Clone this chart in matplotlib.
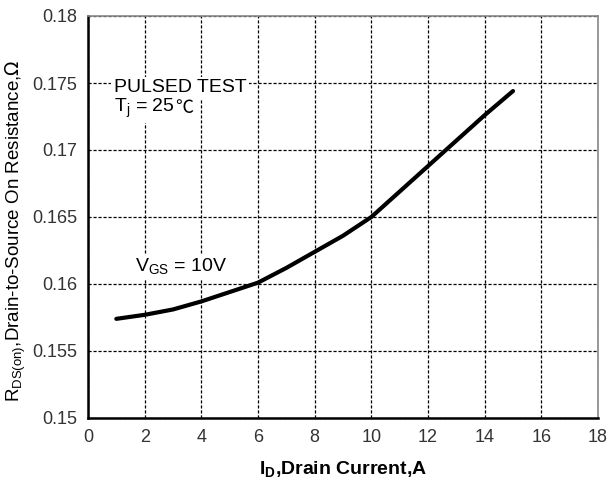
import matplotlib
matplotlib.use("Agg")
import matplotlib.pyplot as plt
import numpy as np

plt.rcParams['font.family'] = ['Liberation Sans', 'DejaVu Sans']

current_a = [1, 2, 3, 4, 5, 6, 7, 8, 9, 10, 11, 12, 13, 14, 15]
rds_on = [0.1574, 0.1577, 0.1581, 0.1587, 0.1594, 0.1601, 0.1612, 0.1624, 0.1636,
          0.1650, 0.1669, 0.1688, 0.1707, 0.1726, 0.1744]
x_ticks = [0, 2, 4, 6, 8, 10, 12, 14, 16, 18]
y_ticks = [0.15, 0.155, 0.16, 0.165, 0.17, 0.175, 0.18]
y_tick_labels = ['0.15', '0.155', '0.16', '0.165', '0.17', '0.175', '0.18']

fig = plt.figure(figsize=(6.08, 4.84), dpi=100)
ax = fig.add_axes([88/608, 1 - 418/484, 510/608, 402/484])

ax.plot(current_a, rds_on, color='black', lw=3, solid_capstyle='round', zorder=3)

ax.set_xlim(0, 18)
ax.set_ylim(0.15, 0.18)
ax.set_xticks(x_ticks)
ax.set_yticks(y_ticks)
ax.set_yticklabels(y_tick_labels)
ax.tick_params(length=0, labelsize=13, labelcolor='#333333', pad=8)
ax.grid(True, color='black', linestyle=(0, (2.5, 1.5)), lw=0.9)

for s in ['left', 'bottom']:
    ax.spines[s].set_color('black')
    ax.spines[s].set_linewidth(1.8)
for s in ['top', 'right']:
    ax.spines[s].set_color('#888888')
    ax.spines[s].set_linewidth(1.2)

ax.set_xlabel(r'I$_\mathregular{D}$,Drain Current,A', fontsize=14, fontweight='bold', labelpad=10)
ax.set_ylabel(r'R$_\mathregular{DS(on)}$,Drain-to-Source On Resistance,$\Omega$', fontsize=13.5)
ax.yaxis.set_label_coords(-0.118, 0.465)

box = dict(facecolor='white', edgecolor='none', pad=2)
ax.text(0.9, 0.17463, 'PULSED TEST', fontsize=14, ha='left', va='center', bbox=box, zorder=4)
t = ax.text(0.9, 0.17313, r'T$_\mathregular{j}$ = 25', fontsize=14, ha='left', va='center',
            bbox=box, zorder=4)
ax.annotate('℃', xy=(1, 0.5), xycoords=t, xytext=(1, 0), textcoords='offset points',
            fontsize=13, ha='left', va='center',
            family=['Noto Sans CJK SC', 'DejaVu Sans'],
            bbox=box, zorder=4)
ax.text(1.65, 0.16127, r'V$_\mathregular{GS}$ = 10V', fontsize=14, ha='left', va='center',
        bbox=box, zorder=4)

fig.savefig('out.png', dpi=100)
